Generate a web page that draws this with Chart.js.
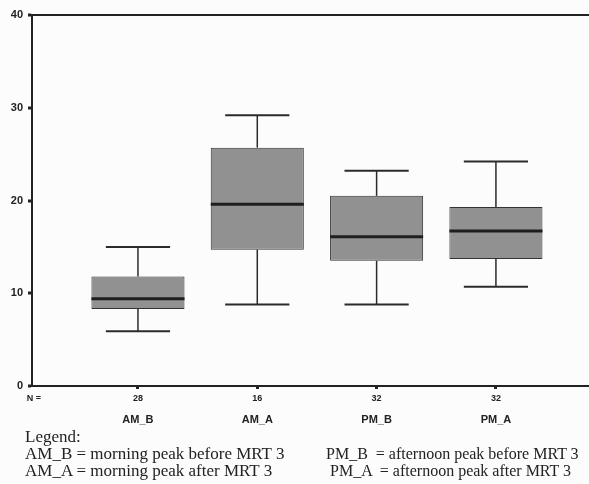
<!DOCTYPE html>
<html>
<head>
<meta charset="utf-8">
<script src="https://cdn.jsdelivr.net/npm/chart.js@4.4.0/dist/chart.umd.min.js"></script>
<style>
  body { margin: 0; background: #fcfcfc; }
  #wrap { position: relative; width: 589px; height: 484px; }
  .legend {
    position: absolute;
    font-family: "Liberation Serif", "Times New Roman", serif;
    line-height: 17px;
    color: #222;
    white-space: pre;
  }
</style>
</head>
<body>
<div id="wrap">
  <canvas id="boxChart" width="589" height="484"></canvas>
  <div class="legend" style="left:25px; top:428px; font-size:17px;">Legend:
AM_B = morning peak before MRT 3
AM_A = morning peak after MRT 3</div>
  <div class="legend" style="left:326px; top:445px; font-size:16px;">PM_B  = afternoon peak before MRT 3
 PM_A  = afternoon peak after MRT 3</div>
</div>
<script>
// Box plot values
const groups = ['AM_B', 'AM_A', 'PM_B', 'PM_A'];
const counts = [28, 16, 32, 32];
const positions = [1, 2, 3, 4];
const whiskerLow = [5.9, 8.8, 8.8, 10.7];
const q1 = [8.3, 14.7, 13.5, 13.7];
const median = [9.4, 19.6, 16.1, 16.7];
const q3 = [11.8, 25.7, 20.5, 19.3];
const whiskerHigh = [15.0, 29.2, 23.2, 24.2];
const yTicks = [0, 10, 20, 30, 40];

// whiskers, medians and the N = row
const boxExtras = {
    id: 'boxExtras',
    afterDatasetsDraw(chart) {
        const { ctx, scales: { x, y } } = chart;
        const meta = chart.getDatasetMeta(0);
        const seg = (x1, y1, x2, y2) => {
            ctx.beginPath();
            ctx.moveTo(x1, y1);
            ctx.lineTo(x2, y2);
            ctx.stroke();
        };
        ctx.save();
        positions.forEach((p, i) => {
            const cx = x.getPixelForValue(p);
            const half = meta.data[i].width / 2;
            const cap = half * 0.69;
            ctx.strokeStyle = '#2b2b2b';
            ctx.lineWidth = 1.5;
            seg(cx, y.getPixelForValue(q3[i]), cx, y.getPixelForValue(whiskerHigh[i]));
            seg(cx, y.getPixelForValue(q1[i]), cx, y.getPixelForValue(whiskerLow[i]));
            ctx.lineWidth = 2;
            seg(cx - cap, y.getPixelForValue(whiskerHigh[i]), cx + cap, y.getPixelForValue(whiskerHigh[i]));
            seg(cx - cap, y.getPixelForValue(whiskerLow[i]), cx + cap, y.getPixelForValue(whiskerLow[i]));
            // median
            ctx.strokeStyle = '#1e1e1e';
            ctx.lineWidth = 3;
            seg(cx - half, y.getPixelForValue(median[i]), cx + half, y.getPixelForValue(median[i]));
        });
        // N = counts under the axis
        ctx.fillStyle = '#222';
        ctx.font = 'bold 9px "Liberation Sans", Arial, sans-serif';
        ctx.textAlign = 'center';
        ctx.textBaseline = 'middle';
        const rowY = chart.chartArea.bottom + 13;
        ctx.fillText('N =', 34, rowY);
        positions.forEach((p, i) => {
            ctx.fillText(String(counts[i]), x.getPixelForValue(p), rowY);
        });
        ctx.restore();
    }
};

const axisFont = { family: '"Liberation Sans", Arial, sans-serif', size: 11, weight: 'bold' };

new Chart(document.getElementById('boxChart'), {
    type: 'bar',
    data: {
        datasets: [{
            data: positions.map((p, i) => ({ x: p, y: [q1[i], q3[i]] })),
            backgroundColor: '#919191',
            borderColor: '#333',
            borderWidth: 1,
            borderSkipped: false,
            categoryPercentage: 1,
            barPercentage: 0.78
        }]
    },
    options: {
        responsive: false,
        animation: false,
        layout: { padding: { top: 15, right: 0, left: 0, bottom: 0 } },
        plugins: { legend: { display: false }, tooltip: { enabled: false } },
        scales: {
            x: {
                type: 'linear',
                offset: false,
                min: 0.112,
                max: 4.78,
                afterBuildTicks: s => { s.ticks = positions.map(v => ({ value: v })); },
                afterFit: s => { s.height = 98; },
                border: { color: '#222', width: 2 },
                grid: { offset: false, drawOnChartArea: false, tickLength: 3, tickColor: '#222', tickWidth: 3 },
                ticks: {
                    callback: v => groups[positions.indexOf(v)],
                    font: axisFont,
                    color: '#222',
                    padding: 24,
                    maxRotation: 0,
                    autoSkip: false
                }
            },
            y: {
                min: 0,
                max: 40,
                afterBuildTicks: s => { s.ticks = yTicks.map(v => ({ value: v })); },
                afterFit: s => { s.width = 32; },
                border: { color: '#222', width: 2 },
                grid: {
                    color: c => (c.tick && c.tick.value === 40 ? '#222' : 'rgba(0,0,0,0)'),
                    lineWidth: c => (c.tick && c.tick.value === 40 ? 2 : 0),
                    tickLength: 4,
                    tickColor: '#222',
                    tickWidth: 3
                },
                ticks: { font: axisFont, color: '#222', padding: 5 }
            }
        }
    },
    plugins: [boxExtras]
});
</script>
</body>
</html>
